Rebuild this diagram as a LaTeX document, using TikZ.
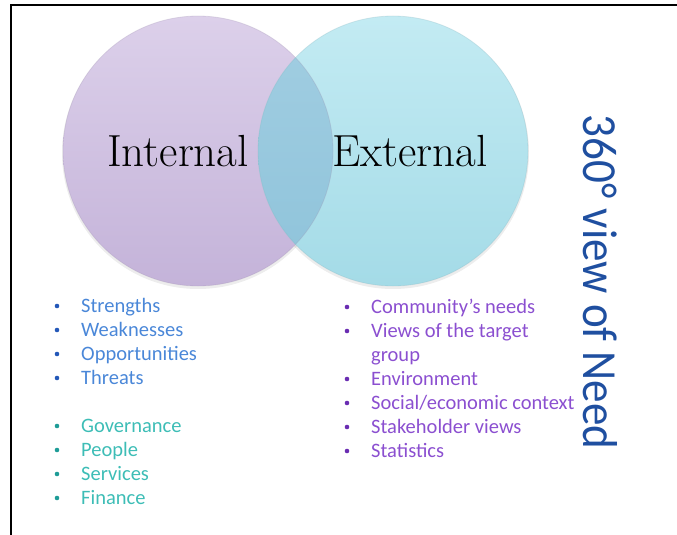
\documentclass[tikz,border=0pt]{standalone}
\usepackage{fontspec}
\newfontfamily\listfont{Carlito}
\usetikzlibrary{positioning}

\definecolor{intfill}{HTML}{DCD0EA}
\definecolor{intlow}{HTML}{C4B3D9}
\definecolor{extfill}{HTML}{C3EBF3}
\definecolor{extlow}{HTML}{A4DBE7}
\definecolor{lenstop}{HTML}{A2CEE2}
\definecolor{lenslow}{HTML}{8EC3DA}
\definecolor{swot}{HTML}{4A87D8}
\definecolor{swotdot}{HTML}{2458B8}
\definecolor{org}{HTML}{3DBDB6}
\definecolor{orgdot}{HTML}{1E9C97}
\definecolor{ext}{HTML}{8B4FD0}
\definecolor{extdot}{HTML}{6A2DB2}
\definecolor{need}{HTML}{1F4FA0}

\tikzset{
  item/.style = {anchor = base west, inner sep = 0pt, font = \listfont\fontsize{20.5}{24}\selectfont},
  dot/.style = {circle, inner sep = 0pt, minimum size = 4.6pt},
  title/.style = {font = \fontsize{45}{48}\selectfont, text = black, inner sep = 0pt}
}

\begin{document}
\begin{tikzpicture}[x = 1pt, y = -1pt]
      \useasboundingbox (0,0) rectangle (677,535);
      \draw [line width = 2pt] (11,535) -- (11,5) -- (677,5);

      \coordinate (ci) at (198,151);
      \coordinate (ce) at (393,151);
      \fill [black, opacity = 0.07] (198,153) circle (136);
      \fill [black, opacity = 0.07] (393,153) circle (136);
      \shade [top color = intfill, bottom color = intlow] (ci) circle (135);
      \shade [top color = extfill, bottom color = extlow] (ce) circle (135);
      \begin{scope}
        \clip (ci) circle (135);
        \shade [top color = lenstop, bottom color = lenslow] (ce) circle (135);
      \end{scope}
      \draw [intlow!80!black, opacity = 0.25, line width = 0.8pt] (ci) circle (135);
      \draw [extlow!80!black, opacity = 0.25, line width = 0.8pt] (ce) circle (135);

      \node [title] (int) at (178,151) {Internal};
      \node [title] (ext) at (410,151) {External};

      \foreach \t [count = \i] in {Strengths, Weaknesses, Opportunities, Threats}{
        \node [item, text = swot] (s\i) at (81, 288 + 24*\i) {\t};
        \node [dot, fill = swotdot] (sd\i) at (57, 282 + 24*\i) {};
      }
      \foreach \t [count = \i] in {Governance, People, Services, Finance}{
        \node [item, text = org] (g\i) at (81, 408 + 24*\i) {\t};
        \node [dot, fill = orgdot] (gd\i) at (57, 402 + 24*\i) {};
      }
      \foreach \t [count = \i] in {Community’s needs, Views of the target, group, Environment, Social/economic context, Stakeholder views, Statistics}{
        \node [item, text = ext] (e\i) at (371, 289 + 24*\i) {\t};
      }
      \foreach \i in {1,2,4,5,6,7}{
        \node [dot, fill = extdot] (ed\i) at (347, 283 + 24*\i) {};
      }

      \node [rotate = -90, xscale = 0.92, text = need, font = \listfont\fontsize{49}{52}\selectfont] (need) at (600,282) {360° view of Need};
    \end{tikzpicture}
\end{document}
